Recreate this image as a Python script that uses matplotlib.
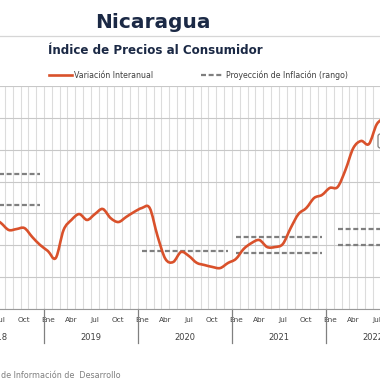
import numpy as np
import matplotlib.pyplot as plt
from matplotlib.patches import FancyBboxPatch, PathPatch
from matplotlib.path import Path
from matplotlib.transforms import blended_transform_factory

plt.rcParams['font.family'] = ['DejaVu Sans']
plt.rcParams['lines.scale_dashes'] = False

# months counted from Jan 2018 (0 = Ene 2018)
first_month = 5  # Jun 2018
inflation = [5.75, 5.40, 4.96, 5.02, 5.08, 4.52, 4.02,            # Jun-Dic 2018
             3.64, 3.20, 4.96, 5.59, 5.96, 5.59, 5.96, 6.28,      # 2019
             5.71, 5.46, 5.78, 6.09,
             6.34, 6.34, 4.58, 3.15, 2.95, 3.58, 3.33, 2.90,      # 2020
             2.76, 2.64, 2.57, 2.89,
             3.14, 3.77, 4.14, 4.33, 3.89, 3.89, 4.08, 5.08,      # 2021
             5.96, 6.34, 6.97, 7.16,
             7.60, 7.66, 8.73, 10.10, 10.55, 10.36, 11.60, 12.00]  # Ene-Ago 2022

# projection ranges (low, high) per year, first / last month covered
proj_start = [0, 24, 36, 49]
proj_end = [11, 35, 47, 59]
proj_low = [6.5, 3.65, 3.5, 4.0]
proj_high = [8.5, np.nan, 4.5, 5.0]

years = [2018, 2019, 2020, 2021, 2022]
month_names = ["Ene", "Abr", "Jul", "Oct"]

orange = '#d9512b'
navy = '#1b2945'
gray_txt = '#404040'


def smooth_path(xs, ys):
    """Bezier path through the points (like a spreadsheet 'smoothed line')."""
    pts = np.column_stack([xs, ys])
    verts = [pts[0]]
    codes = [Path.MOVETO]
    n = len(pts)
    for i in range(n - 1):
        p0 = pts[max(i - 1, 0)]
        p1 = pts[i]
        p2 = pts[i + 1]
        p3 = pts[min(i + 2, n - 1)]
        verts += [p1 + (p2 - p0) / 6, p2 - (p3 - p1) / 6, p2]
        codes += [Path.CURVE4] * 3
    return Path(verts, codes)


W, H = 380, 380
fig = plt.figure(figsize=(3.8, 3.8), dpi=100)

# axes reaches past the figure edges (the reference is a crop)
px_month = 7.83
x_jan19 = 44
left_px = x_jan19 - 12 * px_month
right_px = x_jan19 + 48 * px_month
top_px, bot_px = 86, 309
ax = fig.add_axes([left_px / W, 1 - bot_px / H,
                   (right_px - left_px) / W, (bot_px - top_px) / H])

x = np.arange(first_month, first_month + len(inflation)) + 0.5
ax.add_patch(PathPatch(smooth_path(x, inflation), fill=False, ec=orange,
                       lw=1.9, capstyle='round', joinstyle='round', zorder=4))

for s, e, lo, hi in zip(proj_start, proj_end, proj_low, proj_high):
    for v in (lo, hi):
        if np.isnan(v):
            continue
        ax.plot([s + 0.5, e + 0.5], [v, v], color='#7f7f7f', lw=1.6,
                dashes=(3.6, 1.9), zorder=3)

ax.set_xlim(0, 60)
ax.set_ylim(0, 14)
ax.set_yticks(np.arange(0, 15, 2))
ax.set_yticklabels([])
ax.tick_params(axis='y', length=0)
ax.set_xticks(np.arange(0, 61), minor=True)
ax.grid(which='minor', axis='x', color='#dcdcdc', lw=0.8)
ax.grid(which='major', axis='y', color='#c8c8c8', lw=0.8)

tick_pos = [y * 12 + m + 0.5 for y in range(5) for m in (0, 3, 6, 9)]
ax.set_xticks(tick_pos)
ax.set_xticklabels(month_names * 5, fontsize=5.3, color=gray_txt)
ax.tick_params(axis='x', which='both', length=0, pad=6)
for sp in ['top', 'left', 'right']:
    ax.spines[sp].set_visible(False)
ax.spines['bottom'].set_color('#999999')
ax.spines['bottom'].set_linewidth(0.8)

trans = blended_transform_factory(ax.transData, ax.transAxes)
drop = 34 / (bot_px - top_px)
for k in range(1, 5):
    ax.plot([12 * k, 12 * k], [0, -drop], transform=trans, color='#808080',
            lw=0.9, clip_on=False)
for k, yr in enumerate(years):
    ax.text(12 * k + 6, -28 / (bot_px - top_px), str(yr), transform=trans,
            ha='center', va='center', fontsize=6, color=gray_txt)

# titles
fig.text(153 / W, 1 - 28 / H, "Nicaragua", ha='center', va='baseline',
         fontsize=14.5, fontweight='bold', color=navy)
fig.add_artist(plt.Line2D([0, 1], [1 - 36 / H] * 2, color='#d6d6d6', lw=0.9))
fig.text(155 / W, 1 - 54 / H, "Índice de Precios al Consumidor", ha='center',
         va='baseline', fontsize=8.6, fontweight='bold', color=navy)

# legend
fig.add_artist(plt.Line2D([49 / W, 72 / W], [1 - 75 / H] * 2, color=orange, lw=1.9))
fig.text(74 / W, 1 - 75 / H, "Variación Interanual", ha='left', va='center',
         fontsize=5.7, color=gray_txt)
fig.add_artist(plt.Line2D([201 / W, 222 / W], [1 - 75 / H] * 2, color='#7f7f7f',
                          lw=1.6, dashes=(3.6, 1.9)))
fig.text(226 / W, 1 - 75 / H, "Proyección de Inflación (rango)", ha='left',
         va='center', fontsize=5.7, color=gray_txt)

# partial label box on the right edge
fig.add_artist(FancyBboxPatch((378 / W, 1 - 148 / H), 30 / W, 14 / H,
                              boxstyle='round,pad=0,rounding_size=0.006',
                              transform=fig.transFigure, fc='white',
                              ec='#808080', lw=0.9, zorder=5))

# source
fig.text(1 / W, 1 - 376 / H, "de Información de  Desarrollo", ha='left',
         va='center', fontsize=5.8, color='#7f7f7f')

fig.savefig('out.png', dpi=100)
